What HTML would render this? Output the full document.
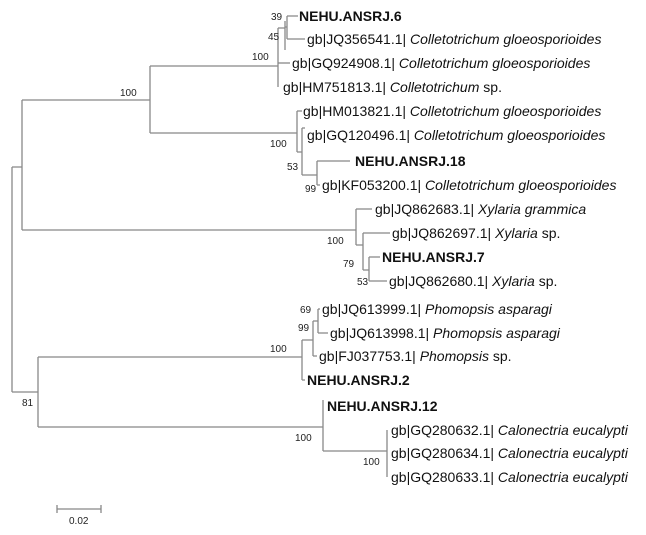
<!DOCTYPE html>
<html><head><meta charset="utf-8"><style>
body{margin:0;background:#fff}
svg{display:block}
text{font-family:"Liberation Sans",Arial,sans-serif;fill:#111}
.t{font-size:14px}
.b{font-size:14px;font-weight:bold}
.s{font-size:10px;fill:#222}
</style></head><body>
<svg width="646" height="535" viewBox="0 0 646 535" xmlns="http://www.w3.org/2000/svg">
<g stroke="#888" stroke-width="1.3" fill="none">
<!-- root -->
<path d="M12 167V392"/>
<path d="M12 167H22M22 100V230"/>
<path d="M22 100H150M150 66V133"/>
<path d="M150 66H278M278 28V87"/>
<path d="M278 28H285M285 21V50"/>
<path d="M285 27H287M287 16V39M287 16H298M287 39H305"/>
<path d="M278 63H290"/>
<path d="M150 133H297M297 111V152M297 111H302M297 152H302M302 128V175M302 128H305M302 175H317M317 161V185M317 161H350M317 185H320"/>
<path d="M22 230H356M356 209V245M356 209H372M356 245H363M363 233V270M363 233H390M363 270H369M369 257V281M369 257H380M369 281H387"/>
<!-- bottom -->
<path d="M12 392H38M38 357V427"/>
<path d="M38 357H302M302 340V380M302 340H313M313 321V356M313 321H318M318 309V333M318 309H320M318 333H328M313 356H317M302 380H305"/>
<path d="M38 427H323M323 400V451M323 451H387M387 430V477"/>
<!-- scale -->
<path d="M57 509H101M57 505V513M101 505V513"/>
</g>
<text class="b" x="299" y="21">NEHU.ANSRJ.6</text>
<text class="t" x="307" y="44">gb|JQ356541.1| <tspan font-style="italic">Colletotrichum gloeosporioides</tspan></text>
<text class="t" x="292" y="68">gb|GQ924908.1| <tspan font-style="italic">Colletotrichum gloeosporioides</tspan></text>
<text class="t" x="283" y="92">gb|HM751813.1| <tspan font-style="italic">Colletotrichum</tspan> sp.</text>
<text class="t" x="303" y="116">gb|HM013821.1| <tspan font-style="italic">Colletotrichum gloeosporioides</tspan></text>
<text class="t" x="307" y="140">gb|GQ120496.1| <tspan font-style="italic">Colletotrichum gloeosporioides</tspan></text>
<text class="b" x="355" y="166">NEHU.ANSRJ.18</text>
<text class="t" x="322" y="190">gb|KF053200.1| <tspan font-style="italic">Colletotrichum gloeosporioides</tspan></text>
<text class="t" x="375" y="214">gb|JQ862683.1| <tspan font-style="italic">Xylaria grammica</tspan></text>
<text class="t" x="392" y="238">gb|JQ862697.1| <tspan font-style="italic">Xylaria</tspan> sp.</text>
<text class="b" x="382" y="262">NEHU.ANSRJ.7</text>
<text class="t" x="389" y="286">gb|JQ862680.1| <tspan font-style="italic">Xylaria</tspan> sp.</text>
<text class="t" x="322" y="314">gb|JQ613999.1| <tspan font-style="italic">Phomopsis asparagi</tspan></text>
<text class="t" x="330" y="338">gb|JQ613998.1| <tspan font-style="italic">Phomopsis asparagi</tspan></text>
<text class="t" x="319" y="361">gb|FJ037753.1| <tspan font-style="italic">Phomopsis</tspan> sp.</text>
<text class="b" x="307" y="385">NEHU.ANSRJ.2</text>
<text class="b" x="327" y="411">NEHU.ANSRJ.12</text>
<text class="t" x="391" y="435">gb|GQ280632.1| <tspan font-style="italic">Calonectria eucalypti</tspan></text>
<text class="t" x="391" y="458">gb|GQ280634.1| <tspan font-style="italic">Calonectria eucalypti</tspan></text>
<text class="t" x="391" y="482">gb|GQ280633.1| <tspan font-style="italic">Calonectria eucalypti</tspan></text>
<text class="s" x="271" y="20">39</text>
<text class="s" x="268" y="40">45</text>
<text class="s" x="252" y="60">100</text>
<text class="s" x="120" y="96">100</text>
<text class="s" x="270" y="147">100</text>
<text class="s" x="287" y="170">53</text>
<text class="s" x="305" y="192">99</text>
<text class="s" x="327" y="244">100</text>
<text class="s" x="343" y="267">79</text>
<text class="s" x="357" y="285">53</text>
<text class="s" x="300" y="313">69</text>
<text class="s" x="298" y="331">99</text>
<text class="s" x="270" y="352">100</text>
<text class="s" x="22" y="406">81</text>
<text class="s" x="295" y="441">100</text>
<text class="s" x="363" y="465">100</text>
<text class="s" x="69" y="524">0.02</text>
</svg>
</body></html>
